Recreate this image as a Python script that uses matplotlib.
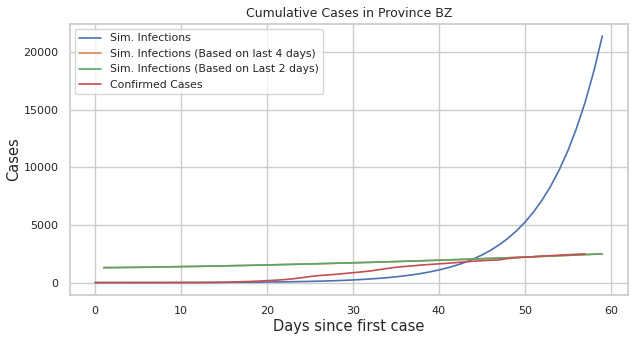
import matplotlib
matplotlib.use('Agg')
import matplotlib.pyplot as plt
import seaborn as sns

sns.set_theme(style='whitegrid')

# simulated infections (days 0..59)
sim_days = list(range(60))
sim_cases = [1, 2, 3, 3, 4, 5, 6, 7, 8, 9,
             10, 12, 14, 16, 19, 22, 26, 31, 36, 42,
             49, 57, 66, 78, 91, 106, 124, 145, 169, 198,
             231, 270, 315, 370, 430, 505, 590, 690, 805, 940,
             1100, 1285, 1500, 1755, 2050, 2400, 2800, 3280, 3830, 4480,
             5240, 6130, 7170, 8380, 9800, 11450, 13400, 15650, 18300, 21400]

# based on last 4 days / last 2 days (days 1..59)
fit_days = list(range(1, 60))
sim_last4 = [1302, 1307, 1314, 1322, 1332, 1342, 1352, 1364, 1377, 1390,
             1402, 1414, 1427, 1440, 1454, 1469, 1484, 1500, 1517, 1534,
             1552, 1570, 1588, 1607, 1624, 1642, 1662, 1682, 1702, 1722,
             1742, 1762, 1784, 1807, 1828, 1852, 1874, 1897, 1922, 1947,
             1972, 1997, 2022, 2048, 2076, 2102, 2132, 2158, 2187, 2217,
             2247, 2277, 2307, 2338, 2368, 2398, 2432, 2462, 2498]
sim_last2 = [1300, 1305, 1312, 1320, 1330, 1340, 1350, 1362, 1375, 1388,
             1400, 1412, 1425, 1438, 1452, 1467, 1482, 1498, 1515, 1532,
             1550, 1568, 1586, 1605, 1622, 1640, 1660, 1680, 1700, 1720,
             1740, 1760, 1782, 1805, 1826, 1850, 1872, 1895, 1920, 1945,
             1970, 1995, 2020, 2046, 2074, 2100, 2130, 2156, 2185, 2215,
             2245, 2275, 2305, 2336, 2366, 2396, 2430, 2460, 2495]

# confirmed cases (days 0..57)
conf_days = list(range(58))
confirmed = [1, 1, 1, 1, 1, 1, 1, 1, 2, 2,
             3, 4, 5, 8, 15, 30, 50, 75, 100, 130,
             170, 210, 260, 330, 420, 530, 610, 660, 720, 790,
             860, 930, 1010, 1120, 1230, 1330, 1400, 1460, 1530, 1580,
             1630, 1680, 1740, 1800, 1860, 1900, 1940, 1970, 2090, 2160,
             2210, 2250, 2300, 2340, 2380, 2420, 2460, 2490]

fig, ax = plt.subplots(figsize=(6.34, 3.39), dpi=100)
fig.subplots_adjust(left=0.11, right=0.99, top=0.93, bottom=0.13)

ax.plot(sim_days, sim_cases, label='Sim. Infections', linewidth=1.2)
ax.plot(fit_days, sim_last4, label='Sim. Infections (Based on last 4 days)', linewidth=1.2)
ax.plot(fit_days, sim_last2, label='Sim. Infections (Based on Last 2 days)', linewidth=1.2)
ax.plot(conf_days, confirmed, label='Confirmed Cases', linewidth=1.2)

ax.set_title('Cumulative Cases in Province BZ', fontsize=9, pad=5)
ax.set_xlabel('Days since first case', fontsize=10.5, labelpad=2)
ax.set_ylabel('Cases', fontsize=10.5, labelpad=2)
ax.tick_params(labelsize=8, pad=2)
ax.legend(loc='upper left', fontsize=7.8)

plt.savefig('out.png')
